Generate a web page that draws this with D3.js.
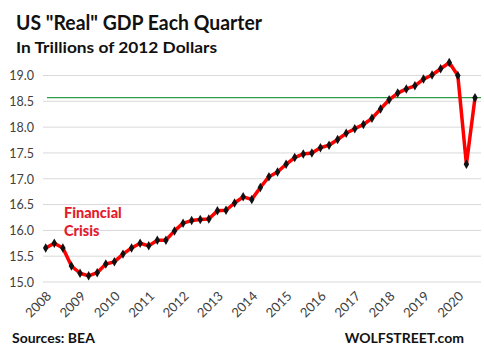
<!DOCTYPE html>
<html>
<head>
<meta charset="utf-8">
<script src="https://cdn.jsdelivr.net/npm/d3@7"></script>
<style>
  html, body { margin: 0; padding: 0; background: #fff; }
  svg { display: block; }
  text { font-family: Lato, "Open Sans", sans-serif; }
</style>
</head>
<body>
<svg id="chart" width="484" height="357"></svg>
<script>
const years = [2008, 2009, 2010, 2011, 2012, 2013, 2014, 2015, 2016, 2017, 2018, 2019, 2020];
const quarters = [];
years.forEach(y => [1, 2, 3, 4].forEach(q => { if (!(y === 2020 && q === 4)) quarters.push(y + "Q" + q); }));
const gdp = [
  15.66, 15.75, 15.66, 15.31, 15.17, 15.12, 15.18, 15.35, 15.39, 15.54, 15.66, 15.75, 15.70, 15.81, 15.81, 15.99,
  16.14, 16.19, 16.21, 16.22, 16.38, 16.39, 16.53, 16.65, 16.60, 16.83, 17.04, 17.13, 17.28, 17.41, 17.48, 17.50,
  17.60, 17.65, 17.76, 17.88, 17.97, 18.05, 18.17, 18.35, 18.53, 18.66, 18.74, 18.80, 18.93, 19.01, 19.13, 19.25,
  19.00, 17.28, 18.57
];
const yTicks = [15.0, 15.5, 16.0, 16.5, 17.0, 17.5, 18.0, 18.5, 19.0];
const refLevel = [18.57];

const svg = d3.select("#chart");

const x = d3.scalePoint().domain(quarters).range([45.7, 475]);
const y = d3.scaleLinear().domain([15, 19]).range([282, 75.5]);

// gridlines
svg.append("g").selectAll("line").data(yTicks).join("line")
  .attr("x1", 43).attr("x2", 481)
  .attr("y1", d => y(d)).attr("y2", d => y(d))
  .attr("stroke", "#d9d9d9").attr("stroke-width", 1);

// y axis labels
const yAxis = d3.axisLeft(y).tickValues(yTicks).tickFormat(d3.format(".1f")).tickSize(0).tickPadding(0);
const gy = svg.append("g").attr("transform", "translate(34,0)").call(yAxis);
gy.select(".domain").remove();
gy.selectAll("text").attr("font-size", 12.5).attr("fill", "#404040")
  .attr("font-family", "Lato, 'Open Sans', sans-serif").attr("dy", "0.35em");

// reference line
svg.append("g").selectAll("line").data(refLevel).join("line")
  .attr("x1", 47).attr("x2", 481)
  .attr("y1", d => y(d)).attr("y2", d => y(d))
  .attr("stroke", "#2f9a4a").attr("stroke-width", 1.2);

// x axis labels
const xTickVals = years.map(yr => yr + "Q1");
const xAxis = d3.axisBottom(x).tickValues(xTickVals).tickFormat(d => d.slice(0, 4)).tickSize(0).tickPadding(0);
const gx = svg.append("g").attr("transform", "translate(0,297)").call(xAxis);
gx.select(".domain").remove();
gx.selectAll("text")
  .attr("font-size", 13).attr("fill", "#404040")
  .attr("font-family", "Lato, 'Open Sans', sans-serif")
  .attr("text-anchor", "end").attr("dy", "0").attr("y", 0)
  .attr("transform", "translate(6,0) rotate(-45)");

// line
const line = d3.line().x((d, i) => x(quarters[i])).y(d => y(d));
svg.append("path").datum(gdp)
  .attr("d", line).attr("fill", "none")
  .attr("stroke", "#ff0000").attr("stroke-width", 3.5).attr("stroke-linejoin", "round");

// markers
svg.append("g").selectAll("path").data(gdp).join("path")
  .attr("d", d3.symbol().type(d3.symbolDiamond).size(26))
  .attr("transform", (d, i) => `translate(${x(quarters[i])},${y(d)})`)
  .attr("fill", "#111");

// annotation
const ann = svg.append("text").attr("fill", "#e31b2e").attr("font-weight", 900).attr("font-size", 14.5);
ann.append("tspan").attr("x", 64).attr("y", 218).text("Financial");
ann.append("tspan").attr("x", 64).attr("y", 236).text("Crisis");

// titles
svg.append("text").attr("x", 16).attr("y", 30).attr("font-size", 20).attr("font-weight", "bold")
  .attr("fill", "#111").attr("textLength", 246).attr("lengthAdjust", "spacingAndGlyphs")
  .text('US "Real" GDP Each Quarter');
svg.append("text").attr("x", 16).attr("y", 53).attr("font-size", 16).attr("font-weight", "bold")
  .attr("fill", "#111").attr("textLength", 201).attr("lengthAdjust", "spacingAndGlyphs")
  .text("In Trillions of 2012 Dollars");

// footer
svg.append("text").attr("x", 12).attr("y", 343).attr("font-size", 14).attr("font-weight", "bold")
  .attr("fill", "#111").text("Sources: BEA");
svg.append("text").attr("x", 464).attr("y", 343).attr("text-anchor", "end").attr("font-size", 14).attr("font-weight", "bold")
  .attr("fill", "#111").text("WOLFSTREET.com");
</script>
</body>
</html>
